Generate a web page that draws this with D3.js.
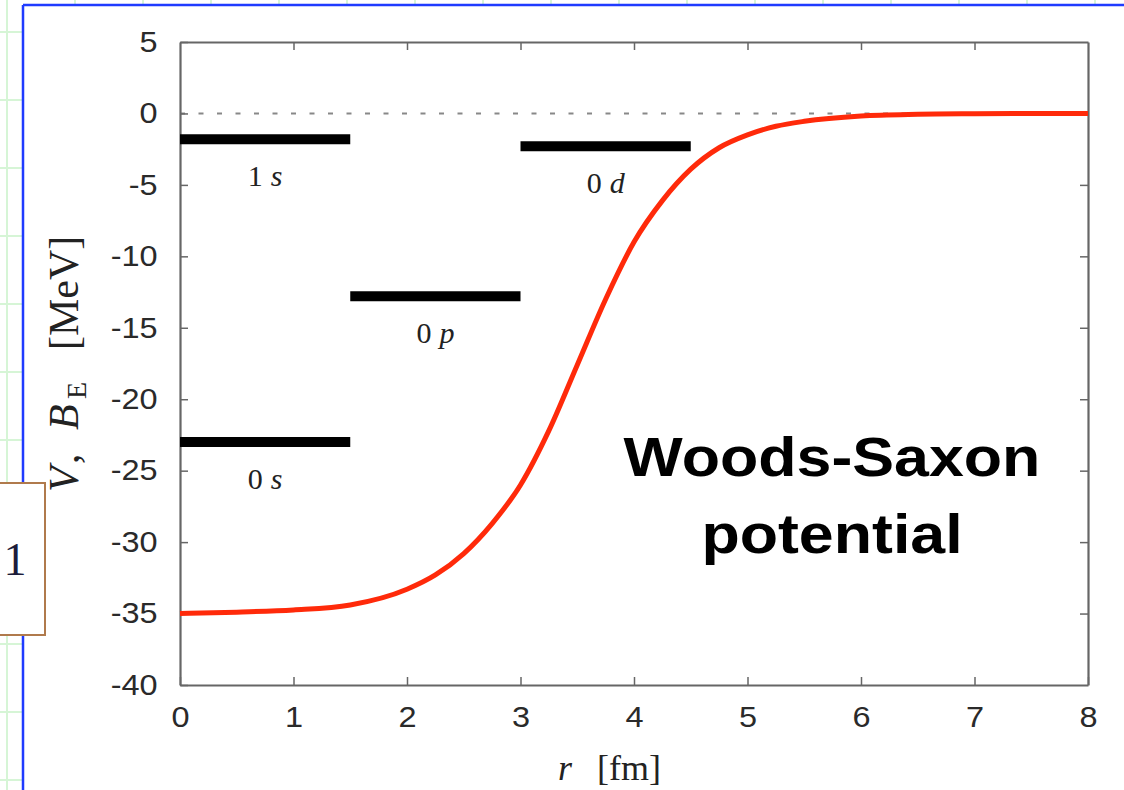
<!DOCTYPE html>
<html>
<head>
<meta charset="utf-8">
<script src="https://cdn.jsdelivr.net/npm/d3@7"></script>
<style>
  body { margin: 0; background: #fff; }
  svg { display: block; }
</style>
</head>
<body>
<div id="chart"></div>
<script>
// potential curve (r in fm, V in MeV)
var rValues = [0, 0.5, 1, 1.5, 2, 2.25, 2.5, 2.75, 3, 3.25, 3.5, 3.75, 4, 4.25, 4.5, 4.75, 5, 5.25, 5.5, 6, 6.5, 7, 7.5, 8];
var vValues = [-35.0, -34.9, -34.75, -34.4, -33.3, -32.3, -30.8, -28.7, -26.0, -22.2, -17.6, -13.0, -9.0, -6.1, -3.9, -2.4, -1.5, -0.9, -0.55, -0.18, -0.06, -0.02, 0, 0];

// single-particle levels
var levelN = ["0", "0", "1", "0"];
var levelL = ["s", "p", "s", "d"];
var levelEnergy = [-23.0, -12.8, -1.8, -2.3];
var levelStart = [0, 1.5, 0, 3];
var levelEnd = [1.5, 3, 1.5, 4.5];

var xTicks = [0, 1, 2, 3, 4, 5, 6, 7, 8];
var yTicks = [5, 0, -5, -10, -15, -20, -25, -30, -35, -40];

function init() {
    var W = 1124, H = 790;
    var margin = { top: 42, right: 36, bottom: 105, left: 180 };
    var width = W - margin.left - margin.right;
    var height = H - margin.top - margin.bottom;

    var svg = d3.select("#chart")
        .append("svg")
        .attr("width", W)
        .attr("height", H);

    // slide background: faint green grid, white panel with blue edge
    var grid = svg.append("g").attr("stroke", "#d6f5d6").attr("stroke-width", 2);
    d3.range(7, W, 68).forEach(function (x) {
        grid.append("line").attr("x1", x).attr("x2", x).attr("y1", 0).attr("y2", H);
    });
    d3.range(32, H, 68).forEach(function (y) {
        grid.append("line").attr("x1", 0).attr("x2", W).attr("y1", y).attr("y2", y);
    });
    svg.append("rect").attr("x", 23).attr("y", 5).attr("width", W - 23).attr("height", H - 5).attr("fill", "#fff");
    svg.append("line").attr("x1", 23).attr("x2", 23).attr("y1", 5).attr("y2", H)
        .attr("stroke", "#1f3bff").attr("stroke-width", 2.5);
    svg.append("line").attr("x1", 23).attr("x2", W).attr("y1", 5).attr("y2", 5)
        .attr("stroke", "#1f3bff").attr("stroke-width", 2.5);

    var g = svg.append("g")
        .attr("transform", "translate(" + margin.left + "," + margin.top + ")");

    var x = d3.scaleLinear().domain([0, 8]).range([0, width]);
    var y = d3.scaleLinear().domain([-40, 5]).range([height, 0]);

    // zero line
    g.append("line")
        .attr("x1", x(0)).attr("x2", x(8))
        .attr("y1", y(0)).attr("y2", y(0))
        .attr("stroke", "#888")
        .attr("stroke-width", 2)
        .attr("stroke-dasharray", "5 13.5");

    // axes, ticks pointing inward; plain hyphen for negatives
    var plain = function (d) { return String(d); };
    var tickFont = "'Liberation Sans', Arial, Helvetica, sans-serif";
    var xAxis = g.append("g")
        .attr("transform", "translate(0," + height + ")")
        .call(d3.axisBottom(x).tickValues(xTicks).tickFormat(plain).tickSizeInner(-8).tickSizeOuter(0).tickPadding(21));
    var yAxis = g.append("g")
        .call(d3.axisLeft(y).tickValues(yTicks).tickFormat(plain).tickSizeInner(-8).tickSizeOuter(0).tickPadding(20));
    var topAxis = g.append("g")
        .call(d3.axisTop(x).tickValues(xTicks.slice(1, -1)).tickSizeInner(-8).tickSizeOuter(0).tickFormat(""));
    var rightAxis = g.append("g")
        .attr("transform", "translate(" + width + ",0)")
        .call(d3.axisRight(y).tickValues(yTicks.slice(1, -1)).tickSizeInner(-8).tickSizeOuter(0).tickFormat(""));

    [xAxis, yAxis, topAxis, rightAxis].forEach(function (a) {
        a.select(".domain").attr("stroke", "#666").attr("stroke-width", 2.2);
        a.selectAll(".tick line").attr("stroke", "#666").attr("stroke-width", 1.5);
        a.selectAll(".tick text")
            .attr("fill", "#2a2a2a")
            .style("font-family", tickFont)
            .style("font-size", "29px")
            .attr("transform", "scale(1.12,1)");
    });

    // energy levels
    var levels = levelEnergy.map(function (e, i) {
        return { n: levelN[i], l: levelL[i], e: e, r0: levelStart[i], r1: levelEnd[i] };
    });
    g.selectAll(".level")
        .data(levels)
        .enter()
        .append("line")
        .attr("class", "level")
        .attr("x1", function (d) { return x(d.r0); })
        .attr("x2", function (d) { return x(d.r1); })
        .attr("y1", function (d) { return y(d.e); })
        .attr("y2", function (d) { return y(d.e); })
        .attr("stroke", "#000")
        .attr("stroke-width", 10);

    var lab = g.selectAll(".levlab")
        .data(levels)
        .enter()
        .append("text")
        .attr("class", "levlab")
        .attr("x", function (d) { return x((d.r0 + d.r1) / 2); })
        .attr("y", function (d) { return y(d.e) + 47; })
        .attr("text-anchor", "middle")
        .style("font-family", "'Liberation Serif', 'Times New Roman', serif")
        .style("font-size", "30px")
        .attr("fill", "#222");
    lab.append("tspan").text(function (d) { return d.n; });
    lab.append("tspan").attr("dx", 8).style("font-style", "italic").text(function (d) { return d.l; });

    // Woods-Saxon curve
    var pts = rValues.map(function (r, i) { return [r, vValues[i]]; });
    g.append("path")
        .datum(pts)
        .attr("fill", "none")
        .attr("stroke", "#ff2a0a")
        .attr("stroke-width", 5)
        .attr("d", d3.line()
            .x(function (d) { return x(d[0]); })
            .y(function (d) { return y(d[1]); })
            .curve(d3.curveMonotoneX));

    // axis titles
    var serif = "'Liberation Serif', 'Times New Roman', serif";
    var xt = svg.append("text")
        .attr("x", 558).attr("y", 780)
        .style("font-family", serif)
        .style("font-size", "36px")
        .attr("fill", "#222");
    xt.append("tspan").style("font-style", "italic").text("r");
    xt.append("tspan").attr("dx", 25).text("[fm]");

    var yt = svg.append("text")
        .attr("transform", "translate(78,492) rotate(-90)")
        .style("font-family", serif)
        .style("font-size", "42px")
        .attr("fill", "#222");
    yt.append("tspan").attr("x", 0).style("font-style", "italic").text("V");
    yt.append("tspan").attr("x", 28).text(",");
    yt.append("tspan").attr("x", 62).style("font-style", "italic").text("B");
    yt.append("tspan").attr("x", 93).attr("dy", 8).style("font-size", "28px").text("E");
    yt.append("tspan").attr("x", 142).attr("dy", -8).text("[MeV]");

    // annotation
    var note = svg.append("g")
        .attr("transform", "translate(832,0) scale(1.14,1)")
        .style("font-family", "'Liberation Sans', Arial, Helvetica, sans-serif")
        .style("font-weight", "bold")
        .style("font-size", "55px")
        .attr("fill", "#000");
    note.append("text").attr("x", 0).attr("y", 476).attr("text-anchor", "middle").text("Woods-Saxon");
    note.append("text").attr("x", 0).attr("y", 553).attr("text-anchor", "middle").text("potential");

    // page-number box at the left edge
    svg.append("rect")
        .attr("x", -3).attr("y", 483).attr("width", 48).attr("height", 152)
        .attr("fill", "#fff")
        .attr("stroke", "#b07a4c")
        .attr("stroke-width", 2);
    svg.append("text")
        .attr("x", 15).attr("y", 575)
        .attr("text-anchor", "middle")
        .style("font-family", serif)
        .style("font-size", "46px")
        .attr("fill", "#1c1c3a")
        .text("1");
}

window.onload = init;
</script>
</body>
</html>
